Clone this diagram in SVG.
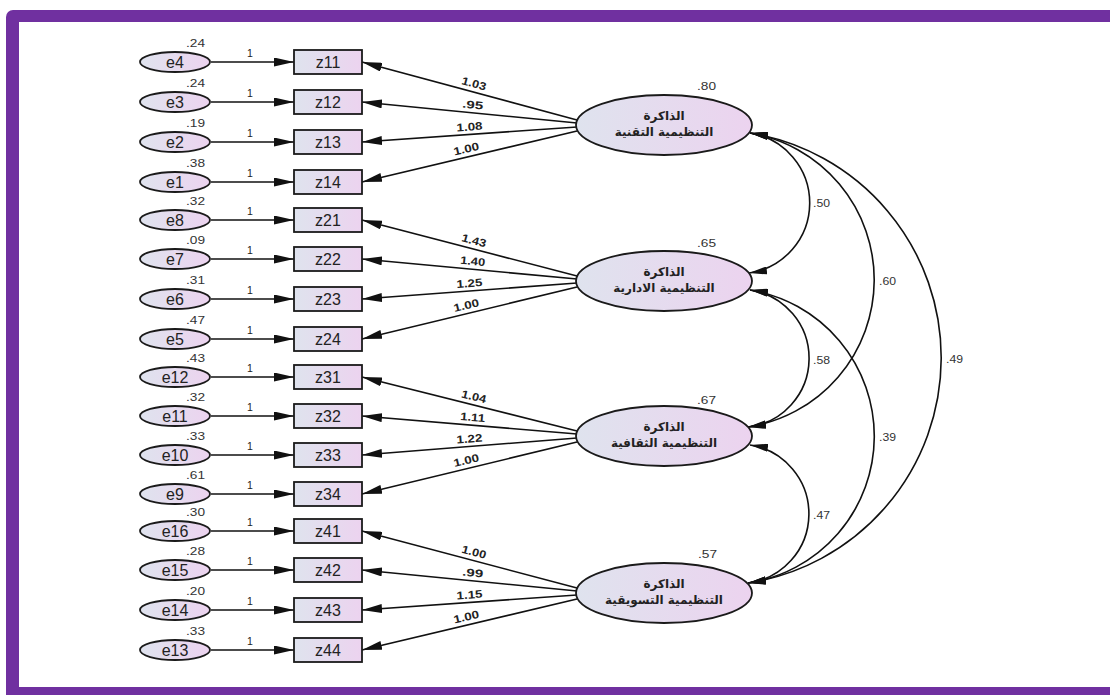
<svg xmlns="http://www.w3.org/2000/svg" width="1110" height="695" viewBox="0 0 1110 695">
<defs>
<linearGradient id="gf" x1="0" y1="0" x2="1" y2="0">
<stop offset="0" stop-color="#dfe3ee"/>
<stop offset="1" stop-color="#ecd3ef"/>
</linearGradient>
<marker id="ah" viewBox="0 0 20 9" refX="20" refY="4.5" markerWidth="20" markerHeight="9" markerUnits="userSpaceOnUse" orient="auto-start-reverse">
<path d="M0,0 L20,4.5 L0,9 z" fill="#111"/>
</marker>
<marker id="ac" viewBox="0 0 18 8" refX="18" refY="4" markerWidth="18" markerHeight="8" markerUnits="userSpaceOnUse" orient="auto-start-reverse">
<path d="M0,0 L18,4 L0,8 z" fill="#111"/>
</marker>
</defs>
<style>
.eo{fill:url(#gf);stroke:#1a1a1a;stroke-width:1.8}
.bx{fill:url(#gf);stroke:#1a1a1a;stroke-width:1.8}
.lat{fill:url(#gf);stroke:#1a1a1a;stroke-width:1.8}
.lbl{font-family:"Liberation Sans",Arial,sans-serif;font-size:16px;fill:#222;text-anchor:middle}
.var{font-family:"Liberation Sans",Arial,sans-serif;font-size:10.5px;fill:#333}
.one{font-family:"Liberation Sans",Arial,sans-serif;font-size:10.5px;fill:#222}
.ld{font-family:"Liberation Sans",Arial,sans-serif;font-size:11px;font-weight:bold;fill:#222;text-anchor:middle}
.cv{font-family:"Liberation Sans",Arial,sans-serif;font-size:10.5px;fill:#333}
.ar{font-family:"DejaVu Sans","Noto Sans",sans-serif;font-size:12px;font-weight:bold;fill:#222;text-anchor:middle}
.ln{stroke:#111;stroke-width:1.6;fill:none;marker-end:url(#ah)}
.arc{stroke:#111;stroke-width:1.6;fill:none;marker-start:url(#ac);marker-end:url(#ac)}
</style>
<rect x="6" y="10" width="1120" height="700" rx="7" fill="#7030a0"/>
<rect x="19" y="22" width="1100" height="665" fill="#ffffff"/>

<g id="connectors">
<line class="ln" x1="211" y1="62" x2="294" y2="62"/>
<line class="ln" x1="211" y1="102" x2="294" y2="102"/>
<line class="ln" x1="211" y1="142" x2="294" y2="142"/>
<line class="ln" x1="211" y1="182" x2="294" y2="182"/>
<line class="ln" x1="211" y1="220" x2="294" y2="220"/>
<line class="ln" x1="211" y1="259" x2="294" y2="259"/>
<line class="ln" x1="211" y1="299" x2="294" y2="299"/>
<line class="ln" x1="211" y1="339" x2="294" y2="339"/>
<line class="ln" x1="211" y1="377" x2="294" y2="377"/>
<line class="ln" x1="211" y1="416" x2="294" y2="416"/>
<line class="ln" x1="211" y1="455" x2="294" y2="455"/>
<line class="ln" x1="211" y1="494" x2="294" y2="494"/>
<line class="ln" x1="211" y1="531" x2="294" y2="531"/>
<line class="ln" x1="211" y1="570" x2="294" y2="570"/>
<line class="ln" x1="211" y1="610" x2="294" y2="610"/>
<line class="ln" x1="211" y1="650" x2="294" y2="650"/>

<line class="ln" x1="577" y1="120" x2="362" y2="62"/>
<line class="ln" x1="577" y1="123" x2="362" y2="102"/>
<line class="ln" x1="577" y1="127" x2="362" y2="142"/>
<line class="ln" x1="577" y1="131" x2="362" y2="182"/>
<line class="ln" x1="577" y1="276" x2="362" y2="220"/>
<line class="ln" x1="577" y1="279" x2="362" y2="259"/>
<line class="ln" x1="577" y1="283" x2="362" y2="299"/>
<line class="ln" x1="577" y1="287" x2="362" y2="339"/>
<line class="ln" x1="577" y1="431" x2="362" y2="377"/>
<line class="ln" x1="577" y1="434" x2="362" y2="416"/>
<line class="ln" x1="577" y1="438" x2="362" y2="455"/>
<line class="ln" x1="577" y1="442" x2="362" y2="494"/>
<line class="ln" x1="577" y1="588" x2="362" y2="531"/>
<line class="ln" x1="577" y1="591" x2="362" y2="570"/>
<line class="ln" x1="577" y1="595" x2="362" y2="610"/>
<line class="ln" x1="577" y1="599" x2="362" y2="650"/>

<path class="arc" d="M750,133 A70.8,70.8 0 0 1 749,273"/>
<path class="arc" d="M750,133 A148.9,148.9 0 0 1 748,427"/>
<path class="arc" d="M750,133 A227.8,227.8 0 0 1 748,583"/>
<path class="arc" d="M750,290 A69.1,69.1 0 0 1 748,427"/>
<path class="arc" d="M750,290 A148.3,148.3 0 0 1 748,583"/>
<path class="arc" d="M750,445 A69.7,69.7 0 0 1 748,583"/>

<text class="one" x="247" y="57">1</text>
<text class="one" x="247" y="97">1</text>
<text class="one" x="247" y="137">1</text>
<text class="one" x="247" y="177">1</text>
<text class="one" x="247" y="215">1</text>
<text class="one" x="247" y="254">1</text>
<text class="one" x="247" y="294">1</text>
<text class="one" x="247" y="334">1</text>
<text class="one" x="247" y="372">1</text>
<text class="one" x="247" y="411">1</text>
<text class="one" x="247" y="450">1</text>
<text class="one" x="247" y="489">1</text>
<text class="one" x="247" y="526">1</text>
<text class="one" x="247" y="565">1</text>
<text class="one" x="247" y="605">1</text>
<text class="one" x="247" y="645">1</text>

<text class="ld" transform="translate(472,91.1) rotate(15.1)" y="-4" textLength="25" lengthAdjust="spacingAndGlyphs">1.03</text>
<text class="ld" transform="translate(472,112.5) rotate(5.6)" y="-4" textLength="21" lengthAdjust="spacingAndGlyphs">.95</text>
<text class="ld" transform="translate(470,134.5) rotate(-4)" y="-4" textLength="26" lengthAdjust="spacingAndGlyphs">1.08</text>
<text class="ld" transform="translate(468,156.4) rotate(-13.3)" y="-4" textLength="26" lengthAdjust="spacingAndGlyphs">1.00</text>
<text class="ld" transform="translate(472,248.1) rotate(14.6)" y="-4" textLength="25" lengthAdjust="spacingAndGlyphs">1.43</text>
<text class="ld" transform="translate(472,269) rotate(5.3)" y="-4" textLength="25" lengthAdjust="spacingAndGlyphs">1.40</text>
<text class="ld" transform="translate(470,291) rotate(-4.3)" y="-4" textLength="26" lengthAdjust="spacingAndGlyphs">1.25</text>
<text class="ld" transform="translate(468,312.9) rotate(-13.6)" y="-4" textLength="26" lengthAdjust="spacingAndGlyphs">1.00</text>
<text class="ld" transform="translate(472,404.1) rotate(14.1)" y="-4" textLength="25" lengthAdjust="spacingAndGlyphs">1.04</text>
<text class="ld" transform="translate(472,425) rotate(4.8)" y="-4" textLength="25" lengthAdjust="spacingAndGlyphs">1.11</text>
<text class="ld" transform="translate(470,446.5) rotate(-4.5)" y="-4" textLength="26" lengthAdjust="spacingAndGlyphs">1.22</text>
<text class="ld" transform="translate(468,467.9) rotate(-13.6)" y="-4" textLength="26" lengthAdjust="spacingAndGlyphs">1.00</text>
<text class="ld" transform="translate(472,559.6) rotate(14.9)" y="-4" textLength="25" lengthAdjust="spacingAndGlyphs">1.00</text>
<text class="ld" transform="translate(472,580.5) rotate(5.6)" y="-4" textLength="21" lengthAdjust="spacingAndGlyphs">.99</text>
<text class="ld" transform="translate(470,602.5) rotate(-4)" y="-4" textLength="26" lengthAdjust="spacingAndGlyphs">1.15</text>
<text class="ld" transform="translate(468,624.4) rotate(-13.3)" y="-4" textLength="26" lengthAdjust="spacingAndGlyphs">1.00</text>

<text class="cv" x="813" y="207" textLength="17" lengthAdjust="spacingAndGlyphs">.50</text>
<text class="cv" x="879" y="285" textLength="17" lengthAdjust="spacingAndGlyphs">.60</text>
<text class="cv" x="946" y="363" textLength="17" lengthAdjust="spacingAndGlyphs">.49</text>
<text class="cv" x="813" y="364" textLength="17" lengthAdjust="spacingAndGlyphs">.58</text>
<text class="cv" x="879" y="441" textLength="17" lengthAdjust="spacingAndGlyphs">.39</text>
<text class="cv" x="813" y="519" textLength="17" lengthAdjust="spacingAndGlyphs">.47</text>
</g>

<g id="e4"><ellipse class="eo" cx="175" cy="62" rx="35" ry="10"/><text class="lbl" x="175" y="67.5">e4</text><text class="var" x="186" y="47" textLength="19" lengthAdjust="spacingAndGlyphs">.24</text></g>
<g id="e3"><ellipse class="eo" cx="175" cy="102" rx="35" ry="10"/><text class="lbl" x="175" y="107.5">e3</text><text class="var" x="186" y="87" textLength="19" lengthAdjust="spacingAndGlyphs">.24</text></g>
<g id="e2"><ellipse class="eo" cx="175" cy="142" rx="35" ry="10"/><text class="lbl" x="175" y="147.5">e2</text><text class="var" x="186" y="127" textLength="19" lengthAdjust="spacingAndGlyphs">.19</text></g>
<g id="e1"><ellipse class="eo" cx="175" cy="182" rx="35" ry="10"/><text class="lbl" x="175" y="187.5">e1</text><text class="var" x="186" y="167" textLength="19" lengthAdjust="spacingAndGlyphs">.38</text></g>
<g id="e8"><ellipse class="eo" cx="175" cy="220" rx="35" ry="10"/><text class="lbl" x="175" y="225.5">e8</text><text class="var" x="186" y="205" textLength="19" lengthAdjust="spacingAndGlyphs">.32</text></g>
<g id="e7"><ellipse class="eo" cx="175" cy="259" rx="35" ry="10"/><text class="lbl" x="175" y="264.5">e7</text><text class="var" x="186" y="244" textLength="19" lengthAdjust="spacingAndGlyphs">.09</text></g>
<g id="e6"><ellipse class="eo" cx="175" cy="299" rx="35" ry="10"/><text class="lbl" x="175" y="304.5">e6</text><text class="var" x="186" y="284" textLength="19" lengthAdjust="spacingAndGlyphs">.31</text></g>
<g id="e5"><ellipse class="eo" cx="175" cy="339" rx="35" ry="10"/><text class="lbl" x="175" y="344.5">e5</text><text class="var" x="186" y="324" textLength="19" lengthAdjust="spacingAndGlyphs">.47</text></g>
<g id="e12"><ellipse class="eo" cx="175" cy="377" rx="35" ry="10"/><text class="lbl" x="175" y="382.5">e12</text><text class="var" x="186" y="362" textLength="19" lengthAdjust="spacingAndGlyphs">.43</text></g>
<g id="e11"><ellipse class="eo" cx="175" cy="416" rx="35" ry="10"/><text class="lbl" x="175" y="421.5">e11</text><text class="var" x="186" y="401" textLength="19" lengthAdjust="spacingAndGlyphs">.32</text></g>
<g id="e10"><ellipse class="eo" cx="175" cy="455" rx="35" ry="10"/><text class="lbl" x="175" y="460.5">e10</text><text class="var" x="186" y="440" textLength="19" lengthAdjust="spacingAndGlyphs">.33</text></g>
<g id="e9"><ellipse class="eo" cx="175" cy="494" rx="35" ry="10"/><text class="lbl" x="175" y="499.5">e9</text><text class="var" x="186" y="479" textLength="19" lengthAdjust="spacingAndGlyphs">.61</text></g>
<g id="e16"><ellipse class="eo" cx="175" cy="531" rx="35" ry="10"/><text class="lbl" x="175" y="536.5">e16</text><text class="var" x="186" y="516" textLength="19" lengthAdjust="spacingAndGlyphs">.30</text></g>
<g id="e15"><ellipse class="eo" cx="175" cy="570" rx="35" ry="10"/><text class="lbl" x="175" y="575.5">e15</text><text class="var" x="186" y="555" textLength="19" lengthAdjust="spacingAndGlyphs">.28</text></g>
<g id="e14"><ellipse class="eo" cx="175" cy="610" rx="35" ry="10"/><text class="lbl" x="175" y="615.5">e14</text><text class="var" x="186" y="595" textLength="19" lengthAdjust="spacingAndGlyphs">.20</text></g>
<g id="e13"><ellipse class="eo" cx="175" cy="650" rx="35" ry="10"/><text class="lbl" x="175" y="655.5">e13</text><text class="var" x="186" y="635" textLength="19" lengthAdjust="spacingAndGlyphs">.33</text></g>

<g id="z11"><rect class="bx" x="294" y="50" width="68" height="24"/><text class="lbl" x="328" y="67.5">z11</text></g>
<g id="z12"><rect class="bx" x="294" y="90" width="68" height="24"/><text class="lbl" x="328" y="107.5">z12</text></g>
<g id="z13"><rect class="bx" x="294" y="130" width="68" height="24"/><text class="lbl" x="328" y="147.5">z13</text></g>
<g id="z14"><rect class="bx" x="294" y="170" width="68" height="24"/><text class="lbl" x="328" y="187.5">z14</text></g>
<g id="z21"><rect class="bx" x="294" y="208" width="68" height="24"/><text class="lbl" x="328" y="225.5">z21</text></g>
<g id="z22"><rect class="bx" x="294" y="247" width="68" height="24"/><text class="lbl" x="328" y="264.5">z22</text></g>
<g id="z23"><rect class="bx" x="294" y="287" width="68" height="24"/><text class="lbl" x="328" y="304.5">z23</text></g>
<g id="z24"><rect class="bx" x="294" y="327" width="68" height="24"/><text class="lbl" x="328" y="344.5">z24</text></g>
<g id="z31"><rect class="bx" x="294" y="365" width="68" height="24"/><text class="lbl" x="328" y="382.5">z31</text></g>
<g id="z32"><rect class="bx" x="294" y="404" width="68" height="24"/><text class="lbl" x="328" y="421.5">z32</text></g>
<g id="z33"><rect class="bx" x="294" y="443" width="68" height="24"/><text class="lbl" x="328" y="460.5">z33</text></g>
<g id="z34"><rect class="bx" x="294" y="482" width="68" height="24"/><text class="lbl" x="328" y="499.5">z34</text></g>
<g id="z41"><rect class="bx" x="294" y="519" width="68" height="24"/><text class="lbl" x="328" y="536.5">z41</text></g>
<g id="z42"><rect class="bx" x="294" y="558" width="68" height="24"/><text class="lbl" x="328" y="575.5">z42</text></g>
<g id="z43"><rect class="bx" x="294" y="598" width="68" height="24"/><text class="lbl" x="328" y="615.5">z43</text></g>
<g id="z44"><rect class="bx" x="294" y="638" width="68" height="24"/><text class="lbl" x="328" y="655.5">z44</text></g>

<g id="F1"><ellipse class="lat" cx="664" cy="125" rx="88" ry="30"/><text class="ar" x="664" y="120">الذاكرة</text><text class="ar" x="664" y="136">التنظيمية التقنية</text><text class="var" x="697" y="90" textLength="19" lengthAdjust="spacingAndGlyphs">.80</text></g>
<g id="F2"><ellipse class="lat" cx="664" cy="281" rx="88" ry="30"/><text class="ar" x="664" y="276">الذاكرة</text><text class="ar" x="664" y="292">التنظيمية الادارية</text><text class="var" x="697" y="247" textLength="19" lengthAdjust="spacingAndGlyphs">.65</text></g>
<g id="F3"><ellipse class="lat" cx="664" cy="436" rx="88" ry="30"/><text class="ar" x="664" y="431">الذاكرة</text><text class="ar" x="664" y="447">التنظيمية الثقافية</text><text class="var" x="697" y="404" textLength="19" lengthAdjust="spacingAndGlyphs">.67</text></g>
<g id="F4"><ellipse class="lat" cx="664" cy="593" rx="88" ry="30"/><text class="ar" x="664" y="588">الذاكرة</text><text class="ar" x="664" y="604">التنظيمية التسويقية</text><text class="var" x="698" y="558" textLength="19" lengthAdjust="spacingAndGlyphs">.57</text></g>
</svg>
